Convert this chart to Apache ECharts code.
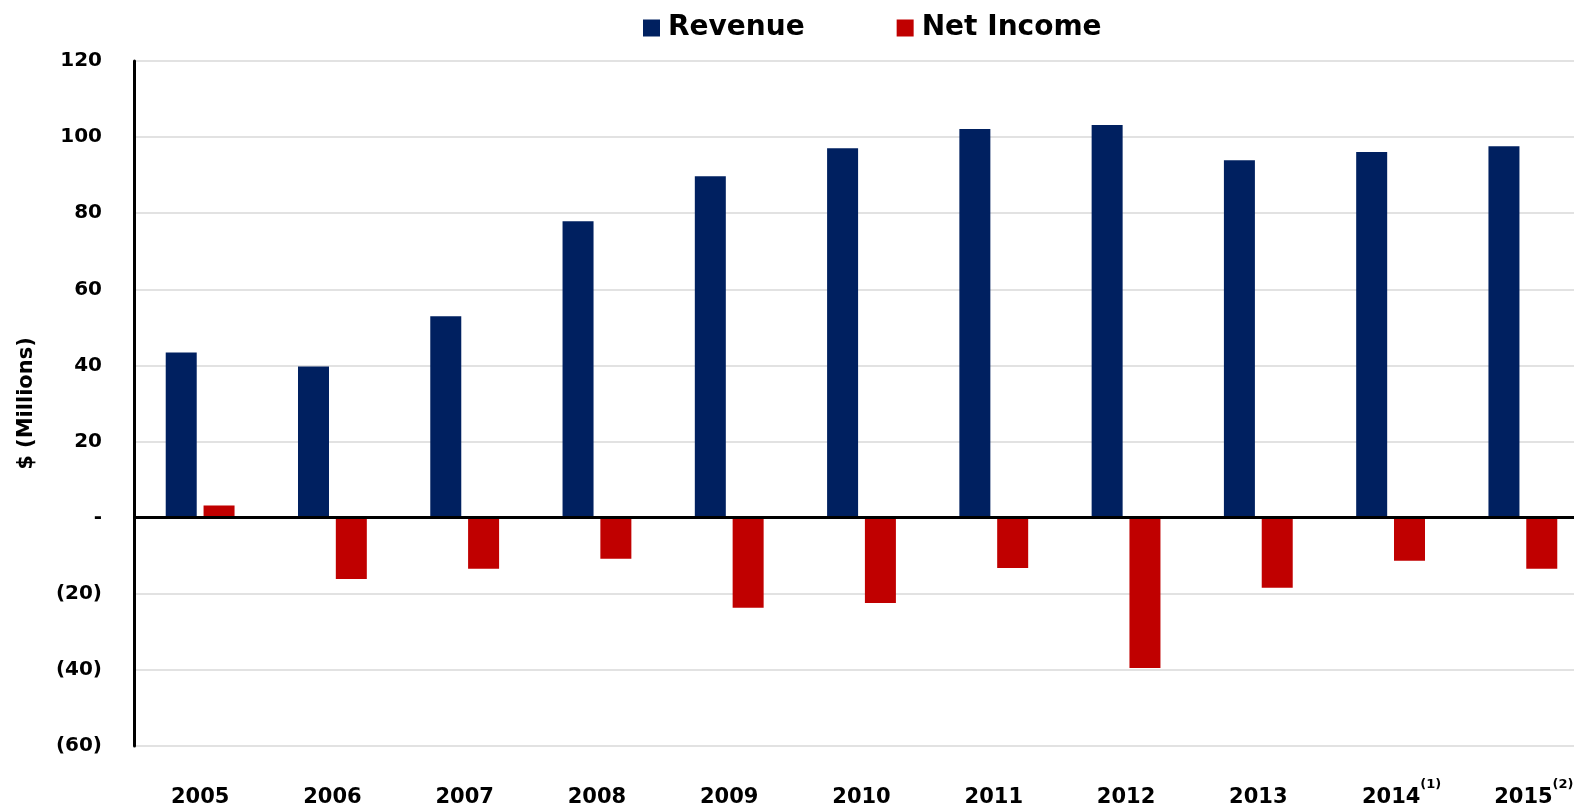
<!DOCTYPE html>
<html>
<head>
<meta charset="utf-8">
<script src="https://cdn.jsdelivr.net/npm/echarts@6/dist/echarts.min.js"></script>
<style>
  html, body { margin: 0; padding: 0; background: #fff; overflow: hidden; }
  #chart { width: 1574px; height: 808px; }
</style>
</head>
<body>
<div id="chart"></div>
<script>
// Annual results, $ millions
const years = ['2005', '2006', '2007', '2008', '2009', '2010', '2011', '2012', '2013', '2014', '2015'];
const yearNotes = ['', '', '', '', '', '', '', '', '', '(1)', '(2)'];
const revenue = [43.4, 39.7, 52.9, 77.9, 89.7, 97.1, 102.1, 103.2, 93.9, 96.1, 97.6];
const netIncome = [3.2, -16.1, -13.4, -10.8, -23.7, -22.4, -13.2, -39.5, -18.4, -11.3, -13.4];

const FONT = '"DejaVu Sans", sans-serif';

function fmtAxis(v) {
  if (v === 0) return '-';
  if (v < 0) return '(' + Math.abs(v) + ')';
  return String(v);
}

const chart = echarts.init(document.getElementById('chart'));
chart.setOption({
  animation: false,
  textStyle: { fontFamily: FONT },
  legend: {
    top: 9,
    left: 638,
    itemWidth: 17,
    itemHeight: 17,
    itemGap: 92,
    icon: 'rect',
    textStyle: { fontSize: 28, fontWeight: 'bold', color: '#000', fontFamily: FONT, padding: [0, 0, 0, 3] },
    data: ['Revenue', 'Net Income']
  },
  // the plot area runs a little past the right edge of the page
  grid: { left: 134, right: -15, top: 61, bottom: 62, containLabel: false, outerBoundsMode: 'none' },
  xAxis: {
    type: 'category',
    data: years,
    axisLine: { show: false },
    axisTick: { show: false },
    axisLabel: {
      interval: 0,
      margin: 32,
      formatter: function (val, idx) {
        const note = yearNotes[idx];
        return note ? '{yn|' + val + '}{s|' + note + '}' : '{y|' + val + '}';
      },
      rich: {
        y: { fontSize: 21, lineHeight: 40, fontWeight: 'bold', color: '#000', fontFamily: FONT },
        yn: { fontSize: 21, lineHeight: 40, fontWeight: 'bold', color: '#000', fontFamily: FONT, padding: [0, 0, 0, 22] },
        s: { fontSize: 13, lineHeight: 12, verticalAlign: 'top', fontWeight: 'bold', color: '#000', fontFamily: FONT }
      }
    }
  },
  yAxis: {
    type: 'value',
    min: -60,
    max: 120,
    interval: 20,
    name: '$ (Millions)',
    nameLocation: 'middle',
    nameGap: 97,
    nameRotate: 90,
    nameTextStyle: { fontSize: 21, fontWeight: 'bold', color: '#000', fontFamily: FONT },
    axisLine: { show: true, lineStyle: { color: '#000', width: 3 } },
    axisTick: { show: false },
    axisLabel: {
      margin: 32,
      fontSize: 20,
      fontWeight: 'bold',
      color: '#000',
      fontFamily: FONT,
      formatter: fmtAxis
    },
    splitLine: { show: true, lineStyle: { color: '#d9d9d9', width: 1.5 } }
  },
  series: [
    {
      name: 'Revenue',
      type: 'bar',
      data: revenue,
      barWidth: 31,
      barGap: '22%',
      itemStyle: { color: '#002060' },
      markLine: {
        silent: true,
        symbol: 'none',
        label: { show: false },
        lineStyle: { color: '#000', width: 3, type: 'solid' },
        data: [{ yAxis: 0 }]
      }
    },
    {
      name: 'Net Income',
      type: 'bar',
      data: netIncome,
      barWidth: 31,
      itemStyle: { color: '#c00000' }
    }
  ]
});
</script>
</body>
</html>
